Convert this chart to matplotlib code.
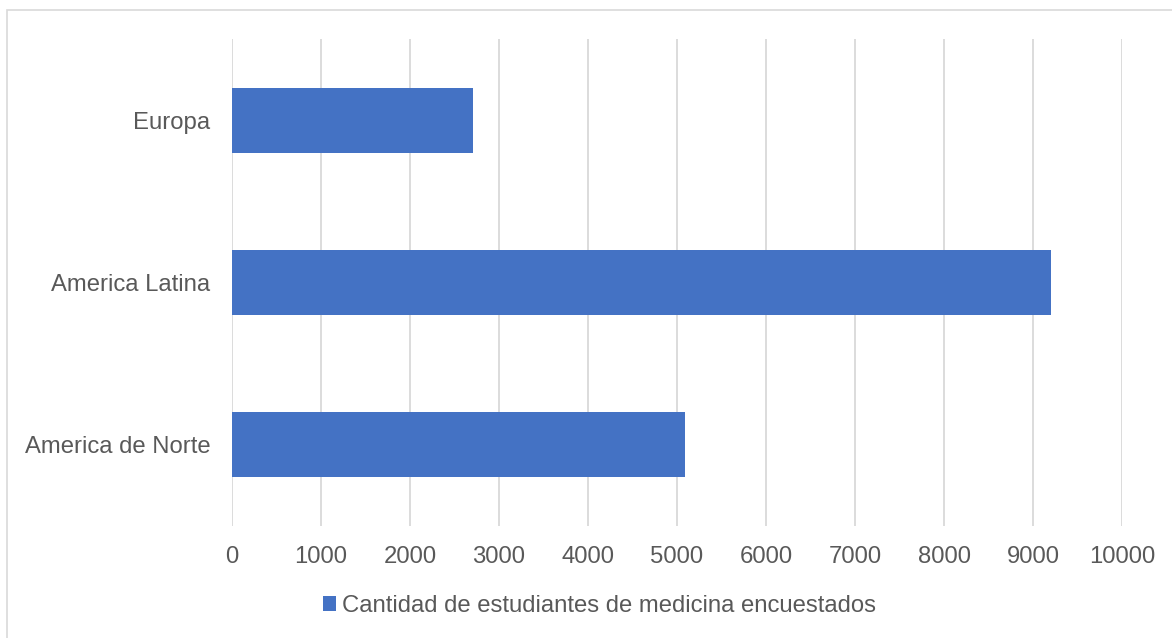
import matplotlib
matplotlib.use("Agg")
import matplotlib.pyplot as plt
from matplotlib.patches import Rectangle

# Data
regions = ["America de Norte", "America Latina", "Europa"]
students = [5090, 9200, 2710]
x_ticks = [0, 1000, 2000, 3000, 4000, 5000, 6000, 7000, 8000, 9000, 10000]
series_name = "Cantidad de estudiantes de medicina encuestados"

W, H = 1172, 638
DPI = 100
BAR_COLOR = "#4472C4"
GRID_COLOR = "#D9D9D9"
TEXT_COLOR = "#595959"
FONT = "Liberation Sans"
FS = 17.2

fig = plt.figure(figsize=(W / DPI, H / DPI), dpi=DPI)
fig.patch.set_facecolor("white")

# chart-area border
fig.patches.append(Rectangle((7 / W, -0.05), 1.1, (H - 10) / H + 0.05,
                             transform=fig.transFigure, fill=False,
                             edgecolor=GRID_COLOR, linewidth=1.2))

left, right = 232 / W, 1122 / W
top, bottom = 1 - 39 / H, 1 - 525.5 / H
ax = fig.add_axes([left, bottom, right - left, top - bottom])

ypos = list(range(len(regions)))
bars = ax.barh(ypos, students, height=0.4, color=BAR_COLOR, zorder=3,
               label=series_name)

ax.set_xlim(0, 10000)
ax.set_ylim(-0.5, len(regions) - 0.5)
ax.set_xticks(x_ticks)
ax.set_xticklabels([str(t) for t in x_ticks])
ax.set_yticks(ypos)
ax.set_yticklabels(regions)

for s in ax.spines.values():
    s.set_visible(False)
ax.grid(axis="x", color=GRID_COLOR, linewidth=1.3, zorder=0)
ax.tick_params(axis="both", length=0, colors=TEXT_COLOR, labelsize=FS)
ax.tick_params(axis="x", pad=15)
ax.tick_params(axis="y", pad=15.5)
for lbl in ax.get_xticklabels() + ax.get_yticklabels():
    lbl.set_fontfamily(FONT)

leg = fig.legend(handles=[bars], labels=[series_name],
                 loc="center left", bbox_to_anchor=(323 / W, 1 - 606 / H),
                 frameon=False, borderpad=0, borderaxespad=0,
                 handlelength=0.53, handleheight=0.53, handletextpad=0.25,
                 prop={"family": FONT, "size": FS})
for t in leg.get_texts():
    t.set_color(TEXT_COLOR)

fig.savefig("out.png", dpi=DPI, facecolor="white")
